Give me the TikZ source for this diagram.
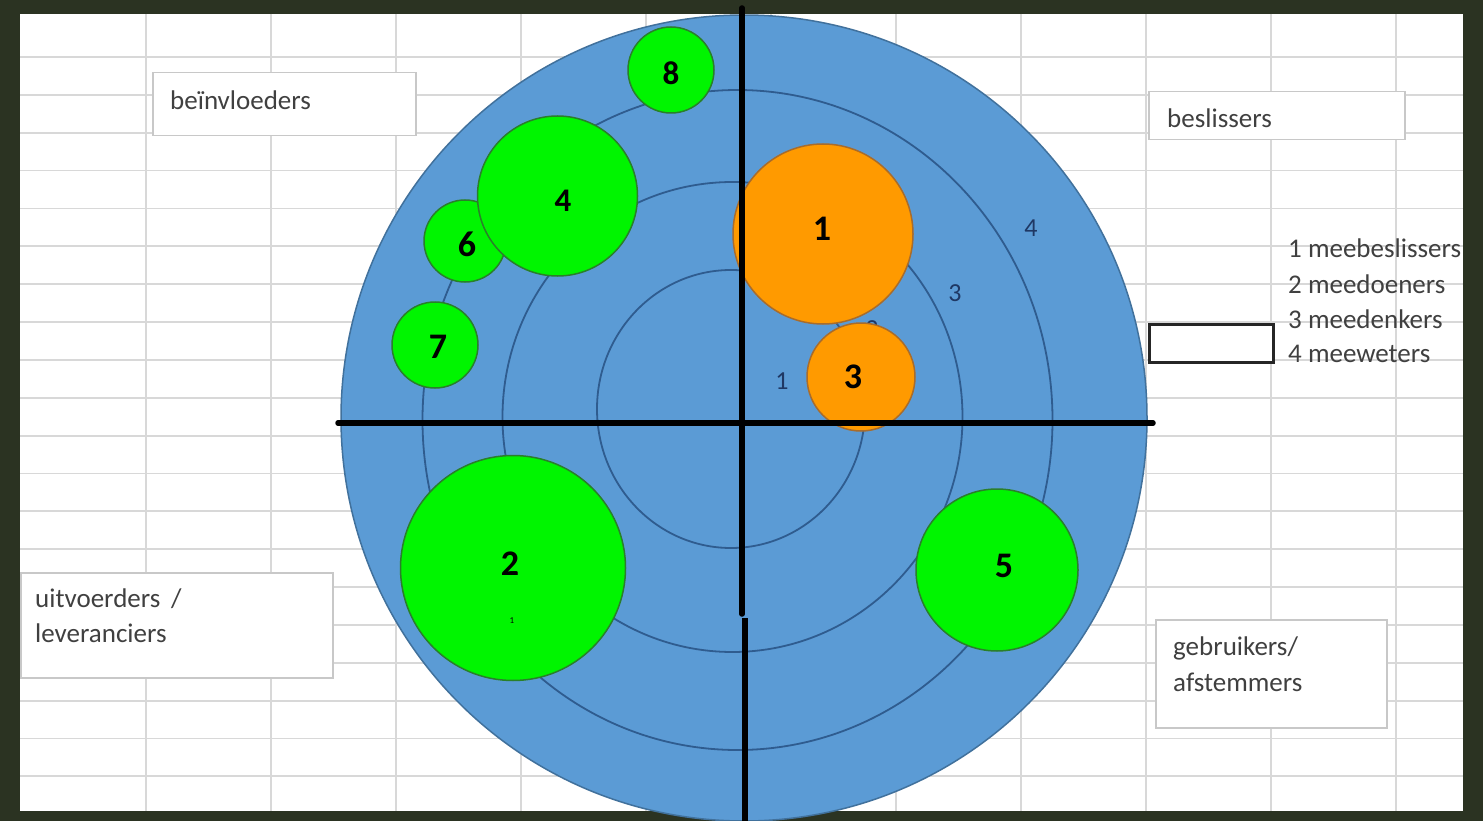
\documentclass[tikz,border=0pt]{standalone}
\usepackage{fontspec}
\setmainfont{Carlito}
\definecolor{frame}{HTML}{2B3322}
\definecolor{bluefill}{HTML}{5B9BD5}
\definecolor{blueline}{HTML}{41719C}
\definecolor{ringline}{HTML}{2F5C8F}
\definecolor{greenfill}{HTML}{00F500}
\definecolor{greenline}{HTML}{2A7F2A}
\definecolor{orangefill}{HTML}{FF9A00}
\definecolor{orangeline}{HTML}{A86C2C}
\definecolor{textgray}{HTML}{404040}
\definecolor{boxgray}{HTML}{C8C8C8}
\definecolor{gridgray}{HTML}{D8D8D8}
\definecolor{ringtext}{HTML}{1F3864}
\begin{document}
\begin{tikzpicture}[x=1pt,y=-1pt,
  lbl/.style={font=\fontsize{27}{32}\selectfont, text=textgray, anchor=base west, inner sep=0pt},
  tbox/.style={draw=boxgray, line width=1.5pt, fill=white, anchor=north west, inner sep=0pt},
  greenc/.style={circle, draw=greenline, line width=1.5pt, fill=greenfill, inner sep=0pt},
  orangec/.style={circle, draw=orangeline, line width=1.5pt, fill=orangefill, inner sep=0pt},
  num/.style={font=\bfseries\fontsize{36}{40}\selectfont, inner sep=0pt},
  ringnum/.style={font=\fontsize{26}{30}\selectfont, text=ringtext, inner sep=0pt},
  ring/.style={draw=ringline, line width=1.8pt},
  gridline/.style={draw=gridgray, line width=1.8pt},
  axis/.style={draw=black, line width=5.5pt, line cap=round}]

\useasboundingbox (0,0) rectangle (1483,821);
\clip (0,0) rectangle (1483,821);

% photo frame and sheet
\fill[frame] (0,0) rectangle (1483,821);
\fill[white] (20,14) rectangle (1463,811);
\foreach \k in {0,...,10} \draw[gridline] ({146+125*\k},14) -- ({146+125*\k},811);
\foreach \k in {0,...,19} \draw[gridline] (20,{57+37.86*\k}) -- (1463,{57+37.86*\k});

% text boxes
\node[tbox, minimum width=263pt, minimum height=63pt] (boxB) at (152,72) {};
\node[lbl] (tB) at (170,110) {beïnvloeders};
\node[tbox, minimum width=256pt, minimum height=48pt] (boxS) at (1148,91) {};
\node[lbl] (tS) at (1167,128) {beslissers};
\node[tbox, minimum width=312pt, minimum height=105pt] (boxU) at (20,572) {};
\node[lbl] (tU1) at (35,607) {uitvoerders \,/};
\node[lbl] (tU2) at (35,642) {leveranciers};
\node[tbox, minimum width=231pt, minimum height=108pt] (boxG) at (1155,619) {};
\node[lbl] (tG1) at (1173,655) {gebruikers/};
\node[lbl] (tG2) at (1173,691) {afstemmers};

% legend
\node[draw=black!85, line width=2.5pt, fill=white, minimum width=124pt, minimum height=38pt, anchor=north west, inner sep=0pt] (legbox) at (1148,323) {};
\node[lbl] (L1) at (1288,258) {1 meebeslissers};
\node[lbl] (L2) at (1288,293) {2 meedoeners};
\node[lbl] (L3) at (1288,328) {3 meedenkers};
\node[lbl] (L4) at (1288,362) {4 meeweters};

% target
\filldraw[fill=bluefill, draw=blueline, line width=1.5pt] (744,418) circle (403pt);
\draw[ring] (731,409) ellipse [x radius=134pt, y radius=139pt];
\draw[ring] (732.5,417) ellipse [x radius=230pt, y radius=235pt];
\draw[ring] (737.5,420) ellipse [x radius=315pt, y radius=330pt];

\node[ringnum] (r1) at (782,381) {1};
\node[ringnum] (r2) at (872,329) {2};
\node[ringnum] (r3) at (955,293) {3};
\node[ringnum] (r4) at (1031,228) {4};

% stakeholder circles
\node[greenc, minimum size=86pt] (c8) at (671,70) {};
\node[greenc, minimum size=82pt] (c6) at (465,241) {};
\node[greenc, minimum size=160pt] (c4) at (557.5,196) {};
\node[greenc, minimum size=86pt] (c7) at (435,345) {};
\node[greenc, minimum size=225pt] (c2) at (513,568) {};
\node[greenc, minimum size=162pt] (c5) at (997,570) {};
\node[orangec, minimum size=180pt] (c1) at (823,234) {};
\node[orangec, minimum size=108pt] (c3) at (861,377) {};

\node[num, font=\bfseries\fontsize{33}{38}\selectfont] (n8) at (671,73) {8};
\node[num, font=\bfseries\fontsize{33}{38}\selectfont] (n4) at (563,201) {4};
\node[num] (n6) at (467,244) {6};
\node[num] (n7) at (438,347) {7};
\node[num] (n2) at (510,564) {2};
\node[font=\fontsize{9}{10}\selectfont, inner sep=0pt] (n2s) at (512,621) {1};
\node[num] (n5) at (1004,566) {5};
\node[num] (n1) at (822,229) {1};
\node[num] (n3) at (853,377) {3};

% axes
\coordinate (hl) at (338,423);
\coordinate (hr) at (1153,423);
\coordinate (vt) at (742,8);
\coordinate (vm1) at (742,614);
\coordinate (vm2) at (745,618);
\coordinate (vb) at (745,830);
\draw[axis] (hl) -- (hr);
\draw[axis] (vt) -- (vm1);
\draw[axis, line cap=butt] (vm2) -- (vb);
\end{tikzpicture}
\end{document}
